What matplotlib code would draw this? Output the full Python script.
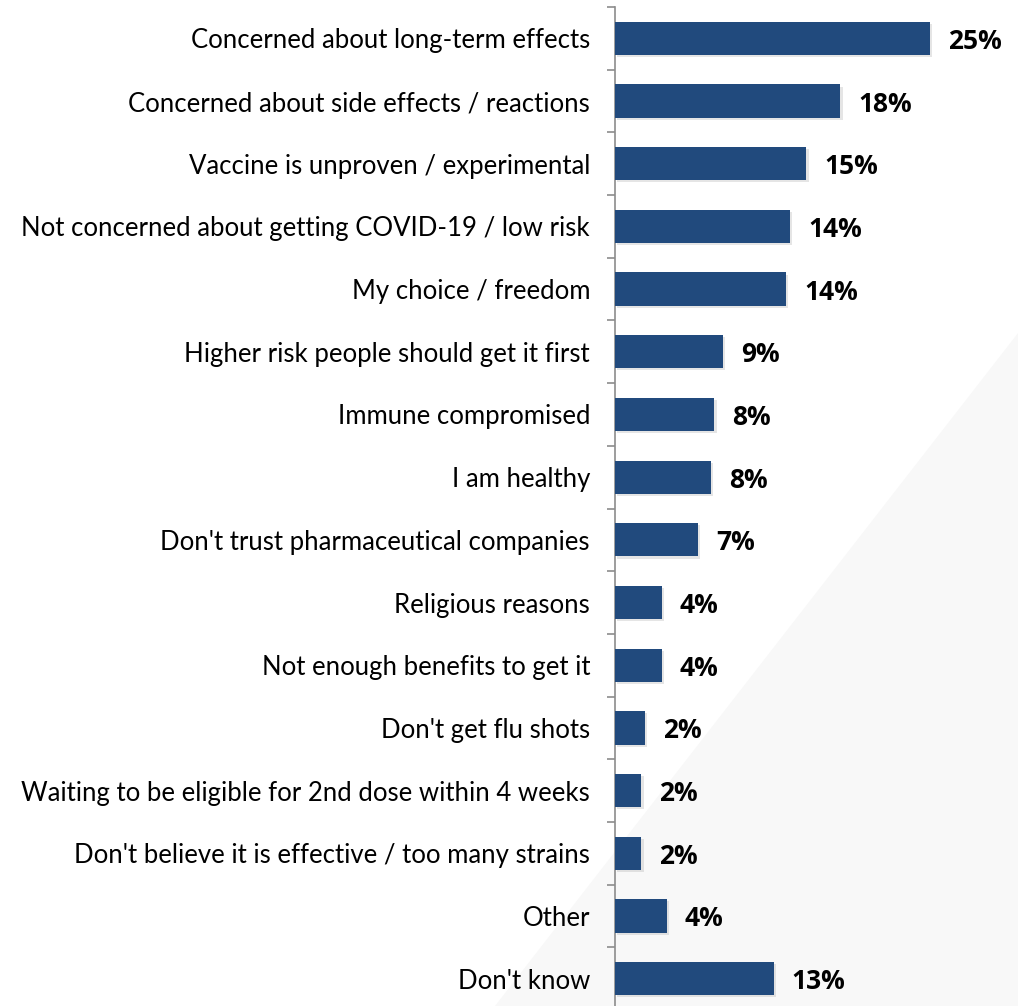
import matplotlib
matplotlib.use("Agg")
import matplotlib.pyplot as plt
import matplotlib.patheffects as pe
from matplotlib.patches import Polygon
import numpy as np

categories = [
    "Concerned about long-term effects",
    "Concerned about side effects / reactions",
    "Vaccine is unproven / experimental",
    "Not concerned about getting COVID-19 / low risk",
    "My choice / freedom",
    "Higher risk people should get it first",
    "Immune compromised",
    "I am healthy",
    "Don't trust pharmaceutical companies",
    "Religious reasons",
    "Not enough benefits to get it",
    "Don't get flu shots",
    "Waiting to be eligible for 2nd dose within 4 weeks",
    "Don't believe it is effective / too many strains",
    "Other",
    "Don't know",
]
values = [25.0, 17.9, 15.2, 13.9, 13.6, 8.6, 7.9, 7.6, 6.6, 3.7, 3.7, 2.4, 2.1, 2.1, 4.1, 12.6]
value_labels = ["25%", "18%", "15%", "14%", "14%", "9%", "8%", "8%", "7%",
                "4%", "4%", "2%", "2%", "2%", "4%", "13%"]

BAR_COLOR = "#214a7d"
AXIS_COLOR = "#8c8c8c"
W, H = 1018, 1006

plt.rcParams["font.family"] = ["Lato", "DejaVu Sans"]
fig = plt.figure(figsize=(W / 100, H / 100), dpi=100)
fig.patch.set_facecolor("white")

# faint grey diagonal wedge in the lower right of the background
bg = fig.add_axes([0, 0, 1, 1], zorder=-1)
bg.set_xlim(0, 1)
bg.set_ylim(0, 1)
bg.axis("off")
bg.add_patch(Polygon([(1.0, 1 - 333 / H), (495 / W, 0.0), (1.0, 0.0)],
                     closed=True, facecolor="#f8f8f8", edgecolor="none"))

ax = fig.add_axes([615 / W, -4 / H, 1 - 615 / W, 1003 / H])
ax.patch.set_alpha(0)

y = np.arange(len(categories))
bars = ax.barh(y, values, height=0.53, color=BAR_COLOR, zorder=3)
for b in bars:
    b.set_path_effects([pe.SimplePatchShadow(offset=(1.5, -1.5), shadow_rgbFace="#999999", alpha=0.25),
                        pe.Normal()])

for yi, v, lab in zip(y, values, value_labels):
    ax.annotate(lab, (v, yi), xytext=(13, 0), textcoords="offset points",
                va="center_baseline", ha="left", fontsize=19, fontweight="bold",
                color="black", family=["Open Sans", "DejaVu Sans"])

ax.set_xlim(0, 32)
ax.set_ylim(len(categories) - 0.5, -0.5)
ax.set_yticks(y)
ax.set_yticklabels(categories, fontsize=18.5, color="black")
ax.tick_params(axis="y", which="major", length=0, pad=18)
ax.set_yticks(np.arange(len(categories) + 1) - 0.5, minor=True)
ax.tick_params(axis="y", which="minor", length=6, width=1.2, color=AXIS_COLOR, direction="out")
ax.set_xticks([])

for side in ["top", "right", "bottom"]:
    ax.spines[side].set_visible(False)
ax.spines["left"].set_color(AXIS_COLOR)
ax.spines["left"].set_linewidth(1.2)

fig.savefig("out.png", dpi=100)
